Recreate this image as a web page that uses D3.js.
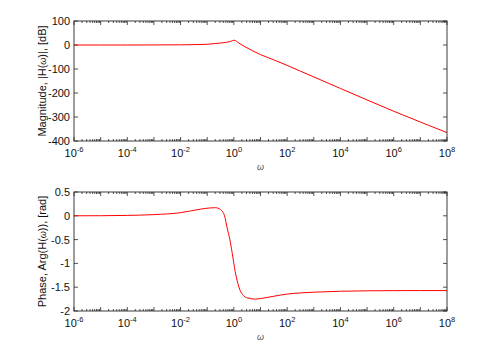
<!DOCTYPE html>
<html><head><meta charset="utf-8">
<script src="https://cdn.jsdelivr.net/npm/d3@7"></script>
<style>
body{margin:0;background:#fff;}
text{font-family:"Liberation Sans",Arial,sans-serif;}
</style></head>
<body><svg id="c" width="492" height="360"></svg>
<script>
// Data
const magOmega = [1e-6,1e-5,1e-4,1e-3,1e-2,10**-1.5,1e-1,10**-0.7,10**-0.3,10**-0.12,1,10**0.2,10**0.42,10**0.7,1e1,10**1.5,1e2,10**2.5,1e3,1e4,1e5,1e6,1e7,1e8];
const magDb =    [0,0,0,0.2,0.8,1.5,3,6,11,15,20,7,-7.5,-24,-40,-62,-85,-109,-133,-181,-229,-276,-321,-365];
const phOmega = [1e-6,1e-5,1e-4,1e-3,1e-2,10**-1.25,10**-0.9,10**-0.69,10**-0.5,10**-0.35,10**-0.25,10**-0.15,10**-0.06,10**0.05,10**0.15,10**0.23,10**0.35,10**0.48,10**0.8,10**1.2,10**1.75,1e2,10**2.5,1e3,1e4,1e5,1e6,1e7,1e8];
const phRad =   [0,0.002,0.008,0.025,0.065,0.14,0.165,0.17,0.13,0.0,-0.26,-0.5,-0.79,-1.17,-1.42,-1.56,-1.67,-1.72,-1.75,-1.72,-1.665,-1.645,-1.62,-1.605,-1.585,-1.576,-1.572,-1.571,-1.571];
const xTickExps = [-6,-4,-2,0,2,4,6,8];
const magTicks = [100,0,-100,-200,-300,-400];
const phTicks = [0.5,0,-0.5,-1,-1.5,-2];

const svg = d3.select("#c");
const L=74, R=447;
const x = d3.scaleLog().domain([1e-6,1e8]).range([L,R]);

function panel(top,bottom,yDom,yTicks,xs,ys,ylabel){
  const y = d3.scaleLinear().domain(yDom).range([bottom,top]);
  const g = svg.append("g");
  g.append("rect").attr("x",L).attr("y",top).attr("width",R-L).attr("height",bottom-top)
    .attr("fill","#fff");
  const ticks=[];
  for(let e=-6;e<8;e++){ for(let m=1;m<10;m++){ ticks.push({v:m*10**e,major:m===1}); } }
  ticks.push({v:1e8,major:true});
  ticks.forEach(t=>{
    const px=x(t.v); const len=t.major?4:2;
    g.append("line").attr("x1",px).attr("x2",px).attr("y1",bottom).attr("y2",bottom-len).attr("stroke","#262626").attr("stroke-width",0.8);
    g.append("line").attr("x1",px).attr("x2",px).attr("y1",top).attr("y2",top+len).attr("stroke","#262626").attr("stroke-width",0.8);
  });
  yTicks.forEach(v=>{
    const py=y(v);
    g.append("line").attr("x1",L).attr("x2",L+4).attr("y1",py).attr("y2",py).attr("stroke","#262626").attr("stroke-width",0.8);
    g.append("line").attr("x1",R).attr("x2",R-4).attr("y1",py).attr("y2",py).attr("stroke","#262626").attr("stroke-width",0.8);
    g.append("text").attr("x",L-4).attr("y",py+4).attr("text-anchor","end").attr("font-size",11).attr("fill","#111").text(v);
  });
  xTickExps.forEach(e=>{
    const t=g.append("text").attr("x",x(10**e)).attr("y",bottom+16).attr("text-anchor","middle").attr("font-size",11).attr("fill","#111");
    t.append("tspan").text("10");
    t.append("tspan").attr("dy",-5).attr("font-size",7.5).text(String(e));
  });
  const line=d3.line().x(d=>x(d[0])).y(d=>y(d[1])).curve(d3.curveMonotoneX);
  g.append("path").datum(xs.map((v,i)=>[v,ys[i]])).attr("d",line).attr("fill","none").attr("stroke","#ff0000").attr("stroke-width",1);
  g.append("rect").attr("x",L).attr("y",top).attr("width",R-L).attr("height",bottom-top)
    .attr("fill","none").attr("stroke","#262626").attr("stroke-width",0.9);
  g.append("text").attr("x",(L+R)/2).attr("y",bottom+29).attr("text-anchor","middle").attr("font-size",9).attr("font-style","italic").attr("fill","#555").attr("font-family","DejaVu Serif, serif").text("ω");
  const yl=g.append("text").attr("transform",`translate(${46},${(top+bottom)/2}) rotate(-90)`).attr("text-anchor","middle").attr("font-size",11).attr("fill","#111");
  ylabel.forEach(p=>{ const s=yl.append("tspan").text(p.t); if(p.i){s.attr("font-style","italic").attr("font-size",9);} });
}
panel(21,141,[-400,100],magTicks,magOmega,magDb,[{t:"Magnitude, |H("},{t:"ω",i:true},{t:")|, [dB]"}]);
panel(192,311,[-2,0.5],phTicks,phOmega,phRad,[{t:"Phase, Arg(H("},{t:"ω",i:true},{t:")), [rad]"}]);
</script></body></html>
